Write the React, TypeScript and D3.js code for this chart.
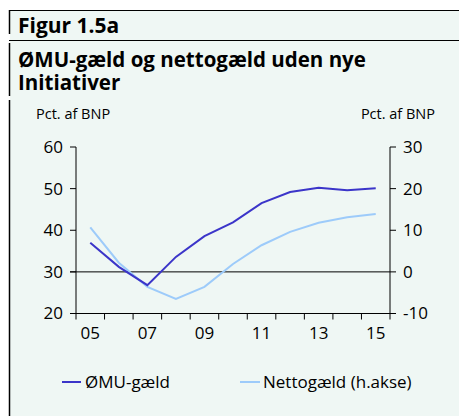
import React from "react";
import * as d3 from "d3";

const years = ["05", "06", "07", "08", "09", "10", "11", "12", "13", "14", "15"];
const tickLabelYears = ["05", "07", "09", "11", "13", "15"];
const emuDebt = [37.0, 31.2, 26.8, 33.6, 38.6, 41.9, 46.5, 49.2, 50.2, 49.6, 50.1];
const netDebt = [10.7, 2.2, -3.6, -6.5, -3.6, 1.9, 6.4, 9.6, 11.8, 13.1, 13.9];
const leftTicks = [20, 30, 40, 50, 60];
const rightTicks = [-10, 0, 10, 20, 30];
const seriesNames = ["ØMU-gæld", "Nettogæld (h.akse)"];

const W = 459;
const H = 416;
const BG = "#eff7f4";
const DARK = "#3b35c9";
const LIGHT = "#9dcbfa";
const FONT = "'Open Sans', sans-serif";

export default function App() {
  const x = d3.scaleBand<string>().domain(years).range([76, 390]).padding(0);
  const yL = d3.scaleLinear().domain([20, 60]).range([313.5, 147]);
  const yR = d3.scaleLinear().domain([-10, 30]).range([313.5, 147]);
  const cx = (d: string) => (x(d) as number) + x.bandwidth() / 2;

  const lineL = d3
    .line<number>()
    .x((_, i) => cx(years[i]))
    .y((d) => yL(d));
  const lineR = d3
    .line<number>()
    .x((_, i) => cx(years[i]))
    .y((d) => yR(d));

  const xTickPositions = years.map((y) => x(y) as number).concat([390]);

  return (
    <svg
      width={W}
      height={H}
      style={{ position: "absolute", left: 0, top: 0, display: "block" }}
    >
      <rect x={0} y={0} width={W} height={H} fill="#ffffff" />
      <rect x={10} y={10} width={W - 10} height={H - 10} fill={BG} />
      {/* frame lines */}
      <line x1={9} x2={W} y1={10.5} y2={10.5} stroke="#000" strokeWidth={1.2} />
      <line x1={9} x2={W} y1={40.5} y2={40.5} stroke="#000" strokeWidth={1.2} />
      <line x1={9.5} x2={9.5} y1={10} y2={34} stroke="#000" strokeWidth={1.5} />
      <line x1={9.5} x2={9.5} y1={43} y2={96} stroke="#000" strokeWidth={1.5} />
      <line x1={9.5} x2={9.5} y1={100} y2={H} stroke="#000" strokeWidth={1.5} />

      {/* titles */}
      <text x={18} y={33} fontFamily={FONT} fontWeight={700} fontSize={21} fill="#000">
        Figur 1.5a
      </text>
      <text fontFamily={FONT} fontWeight={700} fontSize={20.5} fill="#000">
        <tspan x={18} y={67}>ØMU-gæld og nettogæld uden nye</tspan>
        <tspan x={18} y={90}>Initiativer</tspan>
      </text>

      <text x={36} y={119} fontFamily={FONT} fontSize={14.5} fill="#000">
        Pct. af BNP
      </text>
      <text x={435} y={119} fontFamily={FONT} fontSize={14.5} fill="#000" textAnchor="end">
        Pct. af BNP
      </text>

      {/* zero line */}
      <line x1={70} x2={390} y1={yR(0)} y2={yR(0)} stroke="#000" strokeWidth={1} />

      {/* left axis */}
      <line x1={76} x2={76} y1={yL(60)} y2={yL(20)} stroke="#000" strokeWidth={1} />
      {leftTicks.map((t) => (
        <g key={"l" + t}>
          <line x1={70} x2={76} y1={yL(t)} y2={yL(t)} stroke="#000" strokeWidth={1} />
          <text
            x={63}
            y={yL(t)}
            dy="0.35em"
            textAnchor="end"
            fontFamily={FONT}
            fontSize={17}
            fill="#000"
          >
            {t}
          </text>
        </g>
      ))}

      {/* right axis */}
      <line x1={390} x2={390} y1={yR(30)} y2={yR(-10)} stroke="#000" strokeWidth={1} />
      {rightTicks.map((t) => (
        <g key={"r" + t}>
          <line x1={390} x2={396} y1={yR(t)} y2={yR(t)} stroke="#000" strokeWidth={1} />
          <text
            x={403}
            y={yR(t)}
            dy="0.35em"
            textAnchor="start"
            fontFamily={FONT}
            fontSize={17}
            fill="#000"
          >
            {t}
          </text>
        </g>
      ))}

      {/* x axis */}
      <line x1={70} x2={390} y1={yL(20)} y2={yL(20)} stroke="#000" strokeWidth={1} />
      {xTickPositions.map((p, i) => (
        <line key={"xt" + i} x1={p} x2={p} y1={yL(20)} y2={yL(20) + 6} stroke="#000" strokeWidth={1} />
      ))}
      {tickLabelYears.map((y) => (
        <text
          key={"xl" + y}
          x={cx(y)}
          y={339}
          textAnchor="middle"
          fontFamily={FONT}
          fontSize={17}
          fill="#000"
        >
          {y}
        </text>
      ))}

      {/* series */}
      <path d={lineR(netDebt) || ""} fill="none" stroke={LIGHT} strokeWidth={2} />
      <path d={lineL(emuDebt) || ""} fill="none" stroke={DARK} strokeWidth={2} />

      {/* legend */}
      <line x1={62} x2={81} y1={382} y2={382} stroke={DARK} strokeWidth={2} />
      <text x={85} y={382} dy="0.35em" fontFamily={FONT} fontSize={17} fill="#000">
        {seriesNames[0]}
      </text>
      <line x1={240} x2={260} y1={382} y2={382} stroke={LIGHT} strokeWidth={2} />
      <text x={263} y={382} dy="0.35em" fontFamily={FONT} fontSize={17} fill="#000">
        {seriesNames[1]}
      </text>
    </svg>
  );
}
